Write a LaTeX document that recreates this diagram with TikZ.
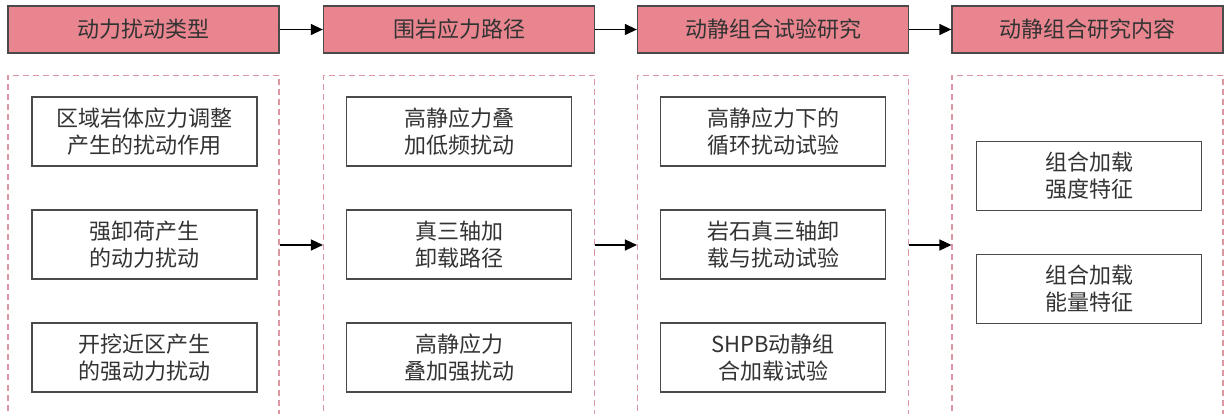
\documentclass[tikz,border=0pt]{standalone}
\usepackage{fontspec}
\setmainfont{Noto Sans CJK SC}
\usetikzlibrary{arrows.meta}
\definecolor{hdrfill}{HTML}{E8858F}
\definecolor{edge}{HTML}{4A4A4A}
\definecolor{dashc}{HTML}{DC98A2}
\definecolor{txt}{HTML}{333333}
\begin{document}
\begin{tikzpicture}[x=1pt,y=-1pt,
  hdr/.style={draw=edge,line width=1.3pt,fill=hdrfill,minimum width=271pt,minimum height=47pt,inner sep=0pt,
    font=\fontsize{22}{26}\selectfont,text=txt},
  group/.style={draw=dashc,line width=1.1pt,dash pattern=on 6pt off 4pt,minimum width=271pt,minimum height=339pt,inner sep=0pt},
  item/.style={draw=edge,line width=1.3pt,fill=white,minimum width=225pt,minimum height=69pt,inner sep=0pt,align=center,
    font=\fontsize{22}{27}\selectfont,text=txt},
  link/.style={draw=black,line width=1.3pt,-{Triangle[length=12pt,width=11pt]}}]
\useasboundingbox (0,0) rectangle (1224,414);
% headers
\node[hdr] (h1) at (143.5,29.5) {动力扰动类型};
\node[hdr] (h2) at (459,29.5) {围岩应力路径};
\node[hdr] (h3) at (773,29.5) {动静组合试验研究};
\node[hdr] (h4) at (1087.5,29.5) {动静组合研究内容};
% dashed groups
\node[group] (g1) at (143.5,245) {};
\node[group] (g2) at (459,245) {};
\node[group] (g3) at (773,245) {};
\node[group] (g4) at (1087.5,245) {};
% items
\node[item] (a1) at (144.5,131.5) {区域岩体应力调整\\产生的扰动作用};
\node[item] (a2) at (144.5,244.5) {强卸荷产生\\的动力扰动};
\node[item] (a3) at (144.5,357.5) {开挖近区产生\\的强动力扰动};
\node[item] (b1) at (459,131.5) {高静应力叠\\加低频扰动};
\node[item] (b2) at (459,244.5) {真三轴加\\卸载路径};
\node[item] (b3) at (459,357.5) {高静应力\\叠加强扰动};
\node[item] (c1) at (773,131.5) {高静应力下的\\循环扰动试验};
\node[item] (c2) at (773,244.5) {岩石真三轴卸\\载与扰动试验};
\node[item] (c3) at (773,357.5) {SHPB动静组\\合加载试验};
\node[item] (d1) at (1089,176) {组合加载\\强度特征};
\node[item] (d2) at (1089,289) {组合加载\\能量特征};
% connectors
\draw[link] (h1) -- (h2);
\draw[link] (h2) -- (h3);
\draw[link] (h3) -- (h4);
\draw[link] (g1) -- (g2);
\draw[link] (g2) -- (g3);
\draw[link] (g3) -- (g4);
\end{tikzpicture}
\end{document}
